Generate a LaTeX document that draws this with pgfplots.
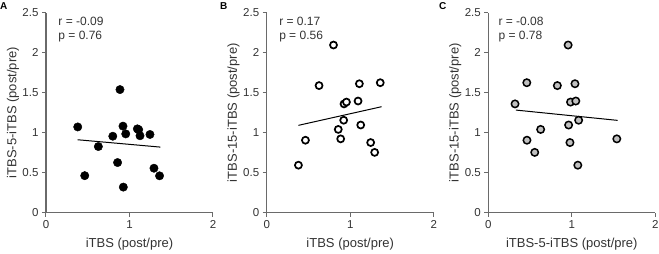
\documentclass[border=0pt]{standalone}
\usepackage{fontspec}
\setmainfont{Liberation Sans}
\usepackage{pgfplots}
\pgfplotsset{compat=1.18}
\usepackage{pgfplotstable}
\definecolor{axgray}{HTML}{6A6A6A}
\definecolor{txt}{HTML}{333333}
\definecolor{ptgray}{HTML}{C0C0C0}

% x = iTBS, a = iTBS-5-iTBS, b = iTBS-15-iTBS (post/pre)
\pgfplotstableread{
x     a     b
0.380 1.072 0.594
0.464 0.463 0.906
0.627 0.827 1.589
0.800 0.956 2.096
0.857 0.627 1.041
0.886 1.539 0.923
0.922 1.082 1.156
0.926 0.320 1.360
0.955 0.985 1.383
1.094 1.048 1.396
1.110 1.038 1.612
1.126 0.962 1.096
1.245 0.978 0.877
1.293 0.556 0.754
1.360 0.461 1.625
}\data

\pgfplotsset{panel/.style={
  scale only axis, width=167pt, height=200pt,
  xmin=0, xmax=2, ymin=0, ymax=2.5,
  axis lines=left, axis line style={-, axgray, line width=1.2pt},
  xtick={0,1,2}, ytick={0,0.5,1,1.5,2,2.5},
  tick align=outside, major tick length=4pt,
  tick style={axgray, line width=1pt},
  ticklabel style={font=\fontsize{11.5}{13}\selectfont, text=txt},
  /pgf/number format/assume math mode=true,
  label style={font=\fontsize{13}{15}\selectfont, text=txt},
  xlabel style={at={(axis description cs:0.5,-0.158)}, anchor=center},
  ylabel style={at={(axis description cs:-0.198,0.5)}, anchor=center},
  clip=false,
  anchor=south west,
}}

\begin{document}
\begin{tikzpicture}
\begin{axis}[panel, at={(46pt,-212.7pt)},
  xlabel={iTBS (post/pre)}, ylabel={iTBS-5-iTBS (post/pre)}]
\addplot[only marks, mark=*, mark size=4.2pt, mark options={fill=black, draw=black}] table[x=x, y=a] {\data};
\addplot[black, line width=1pt] coordinates {(0.378,0.912) (1.37,0.820)};
\node[anchor=base west, font=\fontsize{12}{14}\selectfont, text=txt] at (axis cs:0.107,2.334) {r = -0.09};
\node[anchor=base west, font=\fontsize{12}{14}\selectfont, text=txt] at (axis cs:0.107,2.1675) {p = 0.76};
\end{axis}

\begin{axis}[panel, at={(266.7pt,-212.7pt)},
  xlabel={iTBS (post/pre)}, ylabel={iTBS-15-iTBS (post/pre)}]
\addplot[only marks, mark=*, mark size=3.5pt, mark options={fill=white, draw=black, line width=1.7pt}] table[x=x, y=b] {\data};
\addplot[black, line width=1pt] coordinates {(0.38,1.092) (1.376,1.325)};
\node[anchor=base west, font=\fontsize{12}{14}\selectfont, text=txt] at (axis cs:0.108,2.334) {r = 0.17};
\node[anchor=base west, font=\fontsize{12}{14}\selectfont, text=txt] at (axis cs:0.108,2.1675) {p = 0.56};
\end{axis}

\begin{axis}[panel, at={(488.3pt,-212.7pt)},
  xlabel={iTBS-5-iTBS (post/pre)}, ylabel={iTBS-15-iTBS (post/pre)}]
\addplot[only marks, mark=*, mark size=3.7pt, mark options={fill=ptgray, draw=black, line width=1.5pt}] table[x=a, y=b] {\data};
\addplot[black, line width=1pt] coordinates {(0.33,1.283) (1.549,1.154)};
\node[anchor=base west, font=\fontsize{12}{14}\selectfont, text=txt] at (axis cs:0.08,2.334) {r = -0.08};
\node[anchor=base west, font=\fontsize{12}{14}\selectfont, text=txt] at (axis cs:0.08,2.1675) {p = 0.78};
\end{axis}

\node[anchor=base west, inner sep=0pt, font=\bfseries\fontsize{10}{12}\selectfont] at (0pt,-10pt) {A};
\node[anchor=base west, inner sep=0pt, font=\bfseries\fontsize{10}{12}\selectfont] at (220pt,-10pt) {B};
\node[anchor=base west, inner sep=0pt, font=\bfseries\fontsize{10}{12}\selectfont] at (439pt,-10pt) {C};

\pgfresetboundingbox
\path[use as bounding box] (0pt,0pt) rectangle (659pt,-254pt);
\end{tikzpicture}
\end{document}
